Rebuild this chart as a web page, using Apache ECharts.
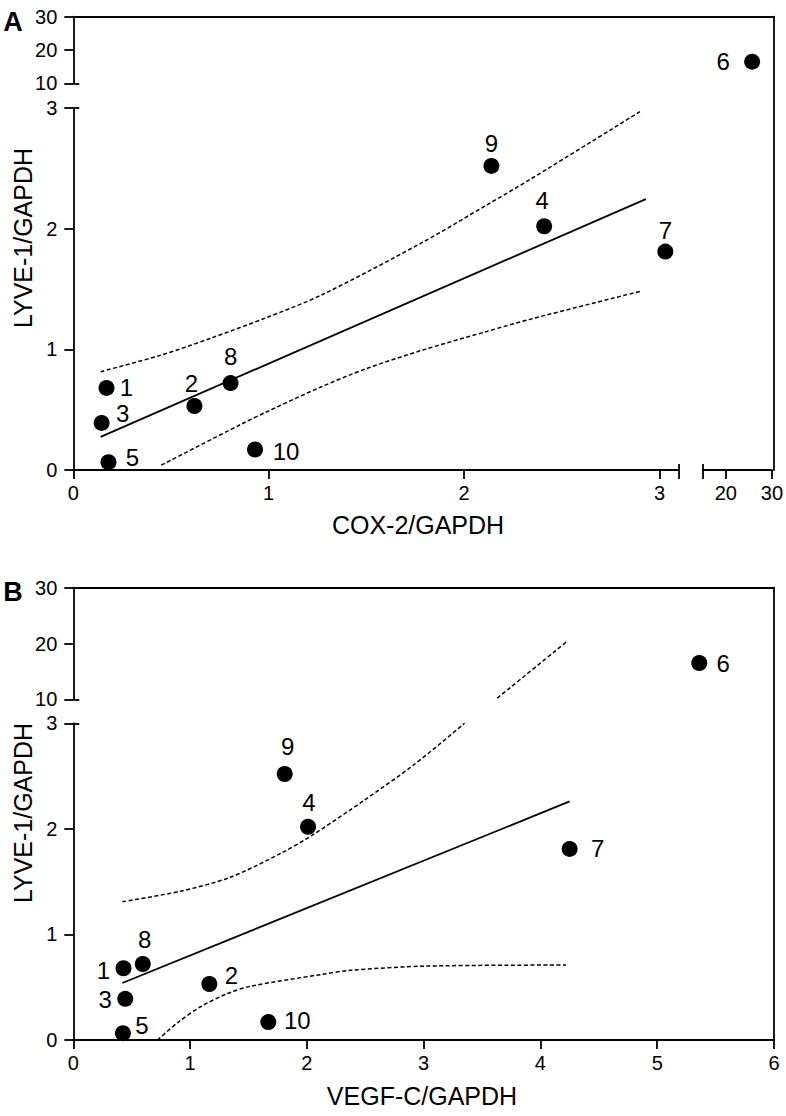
<!DOCTYPE html>
<html>
<head>
<meta charset="utf-8">
<script src="https://cdn.jsdelivr.net/npm/echarts@6.0.0/dist/echarts.min.js"></script>
<style>
html,body{margin:0;padding:0;background:#fff;}
#chart{width:786px;height:1116px;}
</style>
</head>
<body>
<div id="chart"></div>
<script>
// ---------------- data ----------------
const sampleIds = ['1','2','3','4','5','6','7','8','9','10'];
const lyve1 = [0.68, 0.53, 0.39, 2.02, 0.065, 16.5, 1.81, 0.72, 2.52, 0.17];
const cox2  = [0.17, 0.62, 0.145, 2.41, 0.18, 25.4, 3.03, 0.805, 2.14, 0.93];
const vegfc = [0.43, 1.165, 0.445, 2.01, 0.425, 5.36, 4.25, 0.595, 1.81, 1.67];

// regression lines and 95% bands
const fitA   = [[0.14, 0.275], [2.93, 2.245]];
const upperA = [[0.14, 0.815], [0.445, 0.95], [0.70, 1.09], [1.0, 1.27], [1.27, 1.45], [1.78, 1.88], [2.12, 2.20], [2.34, 2.41], [2.90, 2.97]];
const lowerA = [[0.45, 0.04], [0.86, 0.38], [1.0, 0.49], [1.27, 0.69], [1.5, 0.84], [1.78, 0.99], [2.12, 1.15], [2.34, 1.25], [2.90, 1.48]];

const fitB       = [[0.42, 0.54], [4.25, 2.26]];
const upperB     = [[0.42, 1.31], [0.92, 1.41], [1.34, 1.54], [1.78, 1.77], [2.06, 1.95], [2.49, 2.27], [2.92, 2.61], [3.35, 3.0]];
const upperBHigh = [[3.63, 10.2], [4.235, 20.5]];
const lowerB     = [[0.72, 0.0], [0.90, 0.17], [1.09, 0.315], [1.32, 0.44], [1.52, 0.51], [2.12, 0.62], [2.37, 0.66], [3.02, 0.70], [4.22, 0.71]];

// axis tick values
const xTicksA = [0, 1, 2, 3];
const xTicksARight = [20, 30];
const yTicksLow = [0, 1, 2, 3];
const yTicksHigh = [10, 20, 30];
const xTicksB = [0, 1, 2, 3, 4, 5, 6];

// label offsets (style, not data)
const labelOffsetA = [[20,0],[-3,-23],[21,-9],[-2,-26],[24,-5],[-29,0],[0,-21],[0,-27],[0,-22],[31,2]];
const labelOffsetB = [[-20,2],[22,-9],[-20,1],[1,-24],[19,-8],[24,0],[28,0],[2,-24],[3,-27],[29,-2]];

// ---------------- chart ----------------
const FONT = '"Liberation Sans", Arial, Helvetica, sans-serif';
const AX = {color:'#000', width:1.8};

const grids = [
  {left:73.3, top:108,   width:605.7, height:362},   // 0 A lower-left
  {left:73.3, top:16.7,  width:605.7, height:66.6},  // 1 A upper-left
  {left:702.7,top:108,   width:71.3,  height:362},   // 2 A lower-right
  {left:702.7,top:16.7,  width:71.3,  height:66.6},  // 3 A upper-right
  {left:73.3, top:16.7,  width:700.7, height:453.3}, // 4 A frame
  {left:73.3, top:723.3, width:700.7, height:316.7}, // 5 B lower
  {left:73.3, top:587.7, width:700.7, height:111.6}, // 6 B upper
  {left:73.3, top:587.7, width:700.7, height:452.3}  // 7 B frame
];

const xAxes = [], yAxes = [];
function axis(list, o){
  list.push({
    type:'value', gridIndex:o.grid, min:o.min, max:o.max, position:o.pos,
    show: o.show !== false,
    axisLine:{show: o.line !== false, onZero:false, lineStyle:AX},
    axisTick:{show: !!o.ticks, inside: !!o.inside, length: o.tlen || 9, customValues: o.ticks, lineStyle:AX},
    axisLabel:{show: !!o.labels, customValues: o.labels, margin: o.margin || 14,
               fontSize:20, color:'#000', fontFamily:FONT},
    splitLine:{show:false}
  });
  return list.length - 1;
}

// Panel A lower-left
const xA = axis(xAxes,{grid:0,min:0,max:3.1,pos:'bottom',ticks:[0,1,2,3,3.1],labels:xTicksA,margin:13});
axis(xAxes,{grid:0,min:0,max:3.1,pos:'bottom',line:false,ticks:[3.1],inside:true,tlen:6});
const yA = axis(yAxes,{grid:0,min:0,max:3,pos:'left',ticks:yTicksLow,labels:yTicksLow,margin:16});
axis(yAxes,{grid:0,min:0,max:3,pos:'left',line:false,ticks:[3],inside:true,tlen:6});
// Panel A upper-left
const xAU = axis(xAxes,{grid:1,min:0,max:3.1,pos:'bottom',show:false});
const yAU = axis(yAxes,{grid:1,min:10,max:30,pos:'left',ticks:yTicksHigh,labels:yTicksHigh,margin:16});
axis(yAxes,{grid:1,min:10,max:30,pos:'left',line:false,ticks:[10],inside:true,tlen:6});
// Panel A lower-right
const xAR = axis(xAxes,{grid:2,min:15,max:30,pos:'bottom',ticks:[15,20,30],labels:xTicksARight,margin:13});
axis(xAxes,{grid:2,min:15,max:30,pos:'bottom',line:false,ticks:[15],inside:true,tlen:6});
const yAR = axis(yAxes,{grid:2,min:0,max:3,pos:'left',show:false});
// Panel A upper-right
const xAUR = axis(xAxes,{grid:3,min:15,max:30,pos:'bottom',show:false});
const yAUR = axis(yAxes,{grid:3,min:10,max:30,pos:'left',show:false});
// Panel A frame
axis(xAxes,{grid:4,min:0,max:1,pos:'top'});
axis(yAxes,{grid:4,min:0,max:1,pos:'right'});
// Panel B lower
const xB = axis(xAxes,{grid:5,min:0,max:6,pos:'bottom',ticks:xTicksB,labels:xTicksB,margin:13});
const yB = axis(yAxes,{grid:5,min:0,max:3,pos:'left',ticks:yTicksLow,labels:yTicksLow,margin:16});
axis(yAxes,{grid:5,min:0,max:3,pos:'left',line:false,ticks:[3],inside:true,tlen:6});
// Panel B upper
const xBU = axis(xAxes,{grid:6,min:0,max:6,pos:'bottom',show:false});
const yBU = axis(yAxes,{grid:6,min:10,max:30,pos:'left',ticks:yTicksHigh,labels:yTicksHigh,margin:16});
axis(yAxes,{grid:6,min:10,max:30,pos:'left',line:false,ticks:[10],inside:true,tlen:6});
// Panel B frame
axis(xAxes,{grid:7,min:0,max:1,pos:'top'});
axis(yAxes,{grid:7,min:0,max:1,pos:'right'});

const series = [];
function scatter(xi, yi, pts){
  series.push({type:'scatter', xAxisIndex:xi, yAxisIndex:yi, symbolSize:16,
    itemStyle:{color:'#000', opacity:1}, z:5, data:pts});
}
function line(xi, yi, pts, dashed){
  series.push({type:'line', xAxisIndex:xi, yAxisIndex:yi, data:pts, showSymbol:false,
    smooth: dashed ? 0.3 : false, clip:true, silent:true,
    lineStyle:{color:'#000', width: dashed ? 1.5 : 1.8, type: dashed ? [4,2.5] : 'solid', opacity:1}});
}
function pt(x, y, i, offs){
  return {value:[x, y], label:{show:true, position:'inside', offset:offs[i], formatter:sampleIds[i],
    fontSize:24, color:'#000', opacity:1, textBorderWidth:0, fontFamily:FONT}};
}

// Panel A points
const aLL = [], aUR = [];
sampleIds.forEach((id, i) => {
  const p = pt(cox2[i], lyve1[i], i, labelOffsetA);
  if (cox2[i] > 3.1 && lyve1[i] > 3) aUR.push(p); else aLL.push(p);
});
scatter(xA, yA, aLL);
scatter(xAUR, yAUR, aUR);
line(xA, yA, fitA, false);
line(xA, yA, upperA, true);
line(xA, yA, lowerA, true);

// Panel B points
const bL = [], bU = [];
sampleIds.forEach((id, i) => {
  const p = pt(vegfc[i], lyve1[i], i, labelOffsetB);
  if (lyve1[i] > 3) bU.push(p); else bL.push(p);
});
scatter(xB, yB, bL);
scatter(xBU, yBU, bU);
line(xB, yB, fitB, false);
line(xB, yB, upperB, true);
line(xBU, yBU, upperBHigh, true);
line(xB, yB, lowerB, true);

function txt(t, x, y, size, bold, rot){
  return {type:'text', x:x, y:y, rotation: rot || 0, silent:true,
    style:{text:t, fontSize:size, fontWeight: bold ? 'bold' : 'normal', fontFamily:FONT,
      fill:'#000', align:'center', verticalAlign:'middle'}};
}

const option = {
  backgroundColor:'#fff',
  animation:false,
  grid: grids,
  xAxis: xAxes,
  yAxis: yAxes,
  series: series,
  graphic: [
    txt('A', 13, 22, 27, true),
    txt('B', 13, 592, 27, true),
    txt('LYVE-1/GAPDH', 23, 238, 25, false, Math.PI/2),
    txt('LYVE-1/GAPDH', 23, 813, 25, false, Math.PI/2),
    txt('COX-2/GAPDH', 418, 525, 25, false),
    txt('VEGF-C/GAPDH', 422, 1096, 25, false)
  ]
};

const chart = echarts.init(document.getElementById('chart'), null, {renderer:'svg'});
chart.setOption(option);
</script>
</body>
</html>
